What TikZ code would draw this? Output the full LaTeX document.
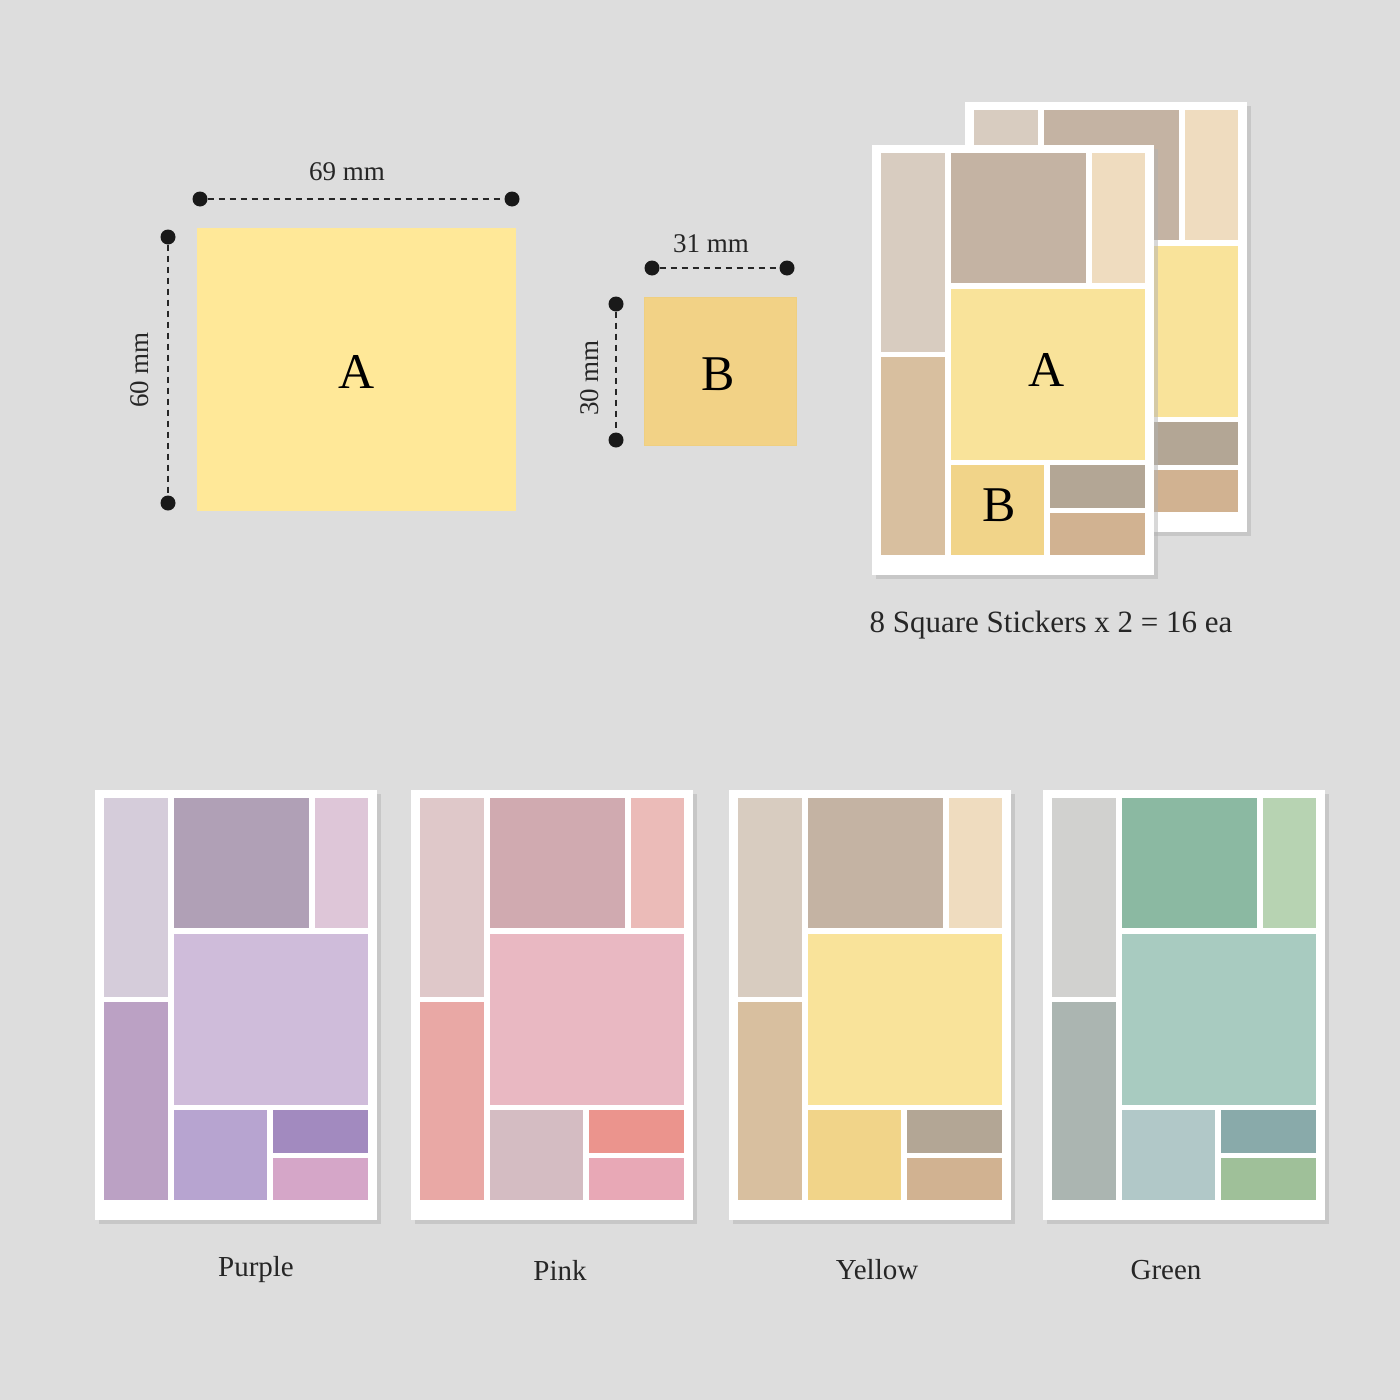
\documentclass[tikz,border=0pt]{standalone}
\usepackage{fontspec}
\setmainfont{Liberation Serif}
\definecolor{bgc}{HTML}{DDDDDD}
\definecolor{ca}{HTML}{FFE898}
\definecolor{cb}{HTML}{F2D286}
\definecolor{cbd}{HTML}{EFCF80}
\newcommand\mysheet[8]{%
  \definecolor{ka}{HTML}{#1}\definecolor{kb}{HTML}{#2}\definecolor{kc}{HTML}{#3}\definecolor{kd}{HTML}{#4}%
  \definecolor{ke}{HTML}{#5}\definecolor{kf}{HTML}{#6}\definecolor{kg}{HTML}{#7}\definecolor{kh}{HTML}{#8}%
  \fill[black!30,opacity=0.5] (4,4) rectangle (286,434);
  \fill[white] (0,0) rectangle (282,430);
  \fill[ka] (9,8) rectangle (73,207);
  \fill[kb] (9,212) rectangle (73,410);
  \fill[kc] (79,8) rectangle (214,138);
  \fill[kd] (220,8) rectangle (273,138);
  \fill[ke] (79,144) rectangle (273,315);
  \fill[kf] (79,320) rectangle (172,410);
  \fill[kg] (178,320) rectangle (273,363);
  \fill[kh] (178,368) rectangle (273,410);}
\begin{document}
\begin{tikzpicture}[x=1pt,y=-1pt,
  dot/.style={circle,fill=black!90,inner sep=0pt,minimum size=15pt},
  dimline/.style={line width=2.2pt,dash pattern=on 6pt off 5pt,black!85},
  lbl/.style={font=\fontsize{27}{30}\selectfont,text=black!85}]
\useasboundingbox (0,0) rectangle (1400,1400);
\fill[bgc] (0,0) rectangle (1400,1400);
% top left
\fill[ca] (197,228) rectangle (516,511);
\draw[fill=cb,draw=cbd] (644,297) rectangle (796,445);
\node[font=\fontsize{50}{55}\selectfont] (A) at (357,372) {A};
\node[font=\fontsize{50}{55}\selectfont] (B) at (718,374) {B};
\node[dot] (h1) at (200,199) {}; \node[dot] (h2) at (512,199) {};
\draw[dimline] (h1) -- (h2);
\node[lbl] (l69) at (347,172) {69 mm};
\node[dot] (v1) at (168,237) {}; \node[dot] (v2) at (168,503) {};
\draw[dimline] (v1) -- (v2);
\node[lbl,rotate=90] (l60) at (140,370) {60 mm};
\node[dot] (s1) at (652,268) {}; \node[dot] (s2) at (787,268) {};
\draw[dimline] (s1) -- (s2);
\node[lbl] (l31) at (711,244) {31 mm};
\node[dot] (t1) at (616,304) {}; \node[dot] (t2) at (616,440) {};
\draw[dimline] (t1) -- (t2);
\node[lbl,rotate=90] (l30) at (590,378) {30 mm};
% stacked sheets
\begin{scope}[shift={(965,102)}]\mysheet{D8CCC0}{D8BF9F}{C4B3A3}{EFDCBF}{F9E39A}{F1D489}{B3A695}{D1B291}\end{scope}
\begin{scope}[shift={(872,145)}]\mysheet{D8CCC0}{D8BF9F}{C4B3A3}{EFDCBF}{F9E39A}{F1D489}{B3A695}{D1B291}\end{scope}
\node[font=\fontsize{50}{55}\selectfont] (SA) at (1047,370) {A};
\node[font=\fontsize{50}{55}\selectfont] (SB) at (999,505) {B};
\node[lbl,font=\fontsize{31}{34}\selectfont] (cap) at (1051,625) {8 Square Stickers x 2 = 16 ea};
% bottom sheets
\begin{scope}[shift={(95,790)}]\mysheet{D5CCDA}{BBA1C4}{B0A0B6}{DEC6D8}{CFBCDA}{B7A4D0}{A28ABF}{D5A6C8}\end{scope}
\begin{scope}[shift={(411,790)}]\mysheet{DFC8C9}{E9A8A5}{D0AAB0}{EBBBB8}{E9B8C2}{D4BCC2}{EB948D}{E8A8B6}\end{scope}
\begin{scope}[shift={(729,790)}]\mysheet{D8CCC0}{D8BF9F}{C4B3A3}{EFDCBF}{F9E39A}{F1D489}{B3A695}{D1B291}\end{scope}
\begin{scope}[shift={(1043,790)}]\mysheet{D1D1CF}{ABB5B1}{8BB9A2}{B7D3B2}{A8CBC0}{B1C8C8}{89AAAA}{9FC099}\end{scope}
\node[lbl,font=\fontsize{29}{32}\selectfont] (p1) at (256,1270) {Purple};
\node[lbl,font=\fontsize{29}{32}\selectfont] (p2) at (560,1270) {Pink};
\node[lbl,font=\fontsize{29}{32}\selectfont] (p3) at (877,1270) {Yellow};
\node[lbl,font=\fontsize{29}{32}\selectfont] (p4) at (1166,1270) {Green};
\end{tikzpicture}
\end{document}
